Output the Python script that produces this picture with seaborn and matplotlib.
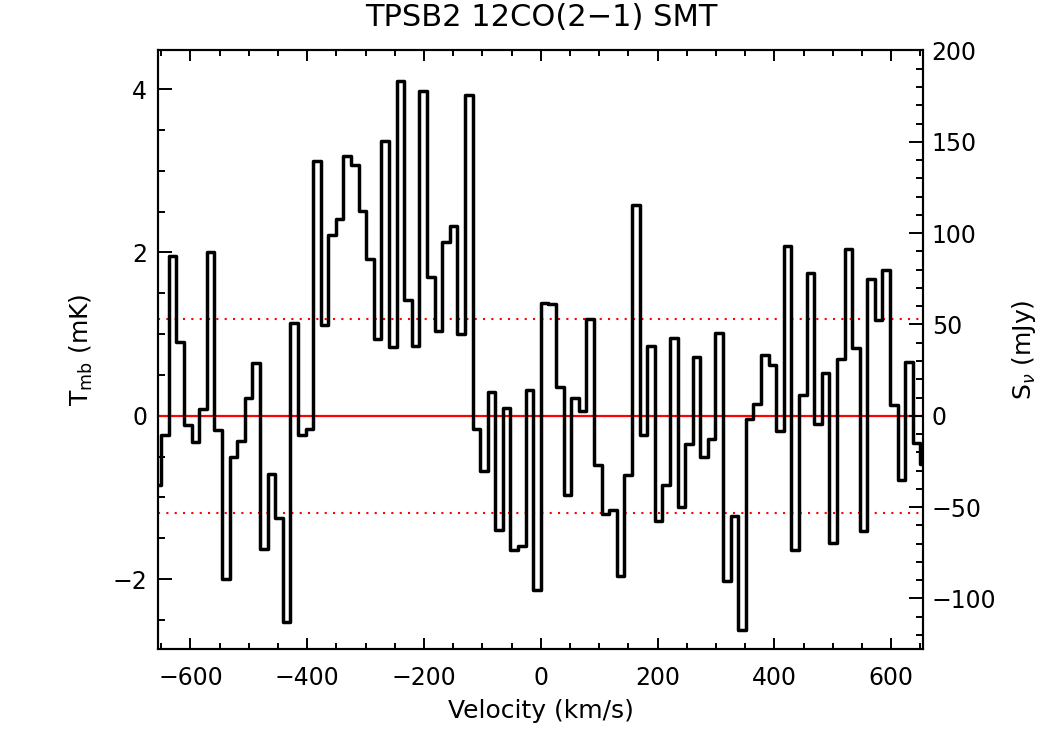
import numpy as np
import matplotlib
matplotlib.use("Agg")
import matplotlib.pyplot as plt
from matplotlib.ticker import MultipleLocator
import seaborn as sns

sns.set_style("ticks")
plt.rcParams['font.family'] = ['DejaVu Sans']
for key in ('text.color', 'axes.labelcolor', 'xtick.color', 'ytick.color', 'axes.edgecolor'):
    plt.rcParams[key] = 'black'

# spectrum channels (13 km/s wide, centres start at -656.5 km/s)
channel_width = 13.0
first_channel = -656.5

# main beam temperature per channel (mK)
tmb = [
    -0.85, -0.23, 1.96, 0.90, -0.11, -0.32, 0.08, 2.00, -0.18, -2.00,
    -0.50, -0.31, 0.22, 0.65, -1.63, -0.71, -1.25, -2.53, 1.14, -0.24,
    -0.16, 3.12, 1.11, 2.22, 2.41, 3.18, 3.07, 2.51, 1.92, 0.94,
    3.36, 0.84, 4.10, 1.42, 0.86, 3.98, 1.70, 1.04, 2.13, 2.32,
    1.00, 3.93, -0.16, -0.68, 0.29, -1.40, 0.10, -1.64, -1.60, 0.32,
    -2.13, 1.38, 1.37, 0.35, -0.97, 0.22, 0.06, 1.18, -0.60, -1.20,
    -1.16, -1.96, -0.72, 2.58, -0.24, 0.85, -1.29, -0.85, 0.95, -1.12,
    -0.34, 0.72, -0.50, -0.28, 1.02, -2.02, -1.23, -2.63, -0.04, 0.15,
    0.74, 0.62, -0.19, 2.08, -1.65, 0.26, 1.75, -0.10, 0.52, -1.56,
    0.69, 2.04, 0.83, -1.41, 1.68, 1.17, 1.79, 0.13, -0.79, 0.66,
    -0.33, -0.59,
]
velocity = first_channel + channel_width * np.arange(len(tmb))

rms = 1.19            # mK, dotted lines
mjy_per_mk = 44.7     # conversion for right axis
v_range = (-655, 655)
t_range = (-2.86, 4.48)

fig = plt.figure(figsize=(10.5, 7.5), dpi=100)
ax = fig.add_axes([0.1508, 0.1343, 0.7286, 0.799])

sns.lineplot(x=velocity, y=tmb, drawstyle='steps-mid', color='black',
             linewidth=2.5, estimator=None, errorbar=None, ax=ax, zorder=3)
ax.axhline(0, color='red', lw=1.6, zorder=2)
for y in (rms, -rms):
    ax.axhline(y, color='red', lw=1.5, linestyle=(0, (1, 3)), zorder=2)

ax.set_xlim(*v_range)
ax.set_ylim(*t_range)
ax.xaxis.set_major_locator(MultipleLocator(200))
ax.xaxis.set_minor_locator(MultipleLocator(50))
ax.yaxis.set_major_locator(MultipleLocator(2))
ax.yaxis.set_minor_locator(MultipleLocator(0.5))

ax.tick_params(which='both', direction='in', top=True, right=False, width=1.4)
ax.tick_params(axis='x', which='major', length=8, labelsize=17, pad=12)
ax.tick_params(axis='x', which='minor', length=4)
ax.tick_params(axis='y', which='major', length=10, labelsize=17, pad=8)
ax.tick_params(axis='y', which='minor', length=5)

ax2 = ax.twinx()
ax2.set_ylim(t_range[0] * mjy_per_mk, t_range[1] * mjy_per_mk)
ax2.yaxis.set_major_locator(MultipleLocator(50))
ax2.yaxis.set_minor_locator(MultipleLocator(10))
ax2.tick_params(which='both', direction='in', width=1.4)
ax2.tick_params(which='major', length=10, labelsize=17, pad=6)
ax2.tick_params(which='minor', length=5)

for a in (ax, ax2):
    for s in a.spines.values():
        s.set_linewidth(1.5)
        s.set_visible(True)

ax.set_title('TPSB2 12CO(2\u22121) SMT', fontsize=22, pad=17)
ax.set_xlabel('Velocity (km/s)', fontsize=18)
ax.xaxis.set_label_coords(0.5, -0.083)
ax.set_ylabel(r'T$_{\rm mb}$ (mK)', fontsize=18)
ax.yaxis.set_label_coords(-0.083, 0.5)
ax2.set_ylabel(r'S$_\nu$ (mJy)', fontsize=18)
ax2.yaxis.set_label_coords(1.113, 0.5)

fig.savefig('out.png', dpi=100)
